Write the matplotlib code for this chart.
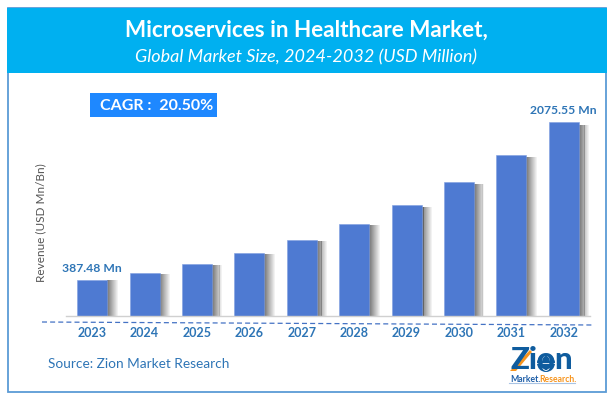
import matplotlib
matplotlib.use("Agg")
import matplotlib.pyplot as plt
from matplotlib.patches import Rectangle, Circle, Polygon, Ellipse
from matplotlib.lines import Line2D

years = ["2023","2024","2025","2026","2027","2028","2029","2030","2031","2032"]
revenue = [387.48,460,556,674,813,984,1188,1434,1722,2075.55]
title = "Microservices in Healthcare Market,"
subtitle = "Global Market Size, 2024-2032 (USD Million)"
cagr = "CAGR :  20.50%"
ylabel = "Revenue (USD Mn/Bn)"
source = "Source: Zion Market Research"

plt.rcParams['font.family'] = ['Lato','DejaVu Sans']
W,H = 614,402
fig = plt.figure(figsize=(W/100,H/100),dpi=100,facecolor='white')

# pixel-coordinate backdrop
bg = fig.add_axes([0,0,1,1],zorder=0)
bg.set_xlim(0,W); bg.set_ylim(H,0); bg.axis('off')
bg.add_patch(Rectangle((7.5,9),598.5,384,facecolor='white',edgecolor='#5b9bd5',lw=1.3))
bg.add_patch(Rectangle((7,9),599.5,65,facecolor='#00b0f0',edgecolor='none'))
bg.text(306,30,title,color='white',fontsize=16.2,fontweight='bold',ha='center',va='center')
bg.text(306,57,subtitle,color='white',fontsize=13,fontstyle='italic',ha='center',va='center')
bg.add_patch(Rectangle((90,94),127,24,facecolor='#1e88ff',edgecolor='none'))
bg.text(157,106.5,cagr,color='white',fontsize=11.5,fontweight='bold',ha='center',va='center')
bg.text(41,223,ylabel,color='#555555',fontsize=8.5,rotation=90,ha='center',va='center')
bg.text(48,364.5,source,color='#2e75b6',fontsize=9.8,ha='left',va='center')
bg.add_line(Line2D([42,592],[323,326],color='#4472c4',lw=0.9,ls=(0,(4,2.5))))

# logo
bg.text(542,360.5,"Zion",color='#0f5c9e',fontsize=22.5,fontweight='black',ha='center',va='center')
bg.add_patch(Polygon([[510,372],[530,351],[532,353],[516,372]],closed=True,facecolor='#f7941d',edgecolor='none'))
bg.add_patch(Circle((546,364),9,facecolor='#0f5c9e',edgecolor='none'))
bg.add_patch(Ellipse((546,364),9,15,facecolor='none',edgecolor='white',lw=0.6))
bg.add_line(Line2D([537,555],[364,364],color='white',lw=0.6))
bg.text(510,380,"Market.",color='#1f5fa8',fontsize=6.2,fontweight='bold',ha='left',va='center')
bg.text(539,380,"Research.",color='#f7941d',fontsize=6.2,fontweight='bold',ha='left',va='center')
bg.add_line(Line2D([509,575],[384,384],color='#a9c4e4',lw=0.8))

# chart
x0,x1,y0,y1 = 65.9,590,317,123
ax = fig.add_axes([x0/W,1-y0/H,(x1-x0)/W,(y0-y1)/H],zorder=1,facecolor='none')
xs = list(range(len(years)))
ax.set_xlim(-0.5,len(years)-0.5)
ax.set_ylim(0,max(revenue))
bw = 30/52.4
# soft shadow to the right of each bar
steps = 11
for k in range(steps):
    ax.bar([x+bw/2+k*0.018 for x in xs],[v*0.985 for v in revenue],width=0.019,align='edge',
           color='#555555',alpha=0.8*(1-k/steps),lw=0,zorder=1)
ax.bar(xs,revenue,width=bw,color='#4e7ad2',edgecolor='#7f9fe0',lw=0.4,zorder=2,clip_on=False)
for s in ['top','left','right']:
    ax.spines[s].set_visible(False)
ax.spines['bottom'].set_color('#d0d0d0')
ax.spines['bottom'].set_linewidth(1)
ax.set_yticks([])
ax.set_xticks(xs,years)
ax.tick_params(axis='x',length=0,pad=7,labelcolor='#2e75b6',labelsize=9)
for t in ax.get_xticklabels():
    t.set_fontweight('bold')
for i in (0,len(years)-1):
    ax.annotate(f"{revenue[i]:.2f} Mn",(xs[i],revenue[i]),xytext=(0,5),textcoords='offset points',
                ha='center',va='bottom',color='#2e75b6',fontsize=8.7,fontweight='bold',annotation_clip=False)
fig.savefig('out.png',dpi=100)
